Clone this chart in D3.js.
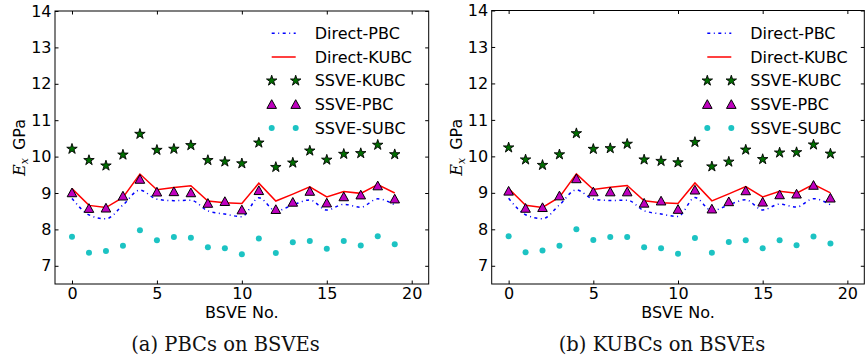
<!DOCTYPE html>
<html>
<head>
<meta charset="utf-8">
<script src="https://cdn.jsdelivr.net/npm/d3@7"></script>
<style>
  body { margin: 0; background: #fff; }
  svg { display: block; }
  .tick-label { font-family: "DejaVu Sans", sans-serif; font-size: 16px; fill: #000; }
  .caption { font-family: "DejaVu Serif", serif; font-size: 19.5px; fill: #111; }
</style>
</head>
<body>
<script>
// BSVE numbers 0..19
let bsve = d3.range(20)

// direct simulations, same in both panels
let directPBC  = [8.85, 8.40, 8.29, 8.67, 9.08, 8.83, 8.79, 8.80, 8.51, 8.42,
                  8.35, 8.87, 8.51, 8.67, 8.81, 8.53, 8.69, 8.61, 8.84, 8.67]
let directKUBC = [9.12, 8.66, 8.60, 8.88, 9.52, 9.09, 9.15, 9.20, 8.78, 8.73,
                  8.71, 9.27, 8.78, 8.97, 9.17, 8.89, 9.04, 8.99, 9.23, 9.00]

// (a) PBCs on BSVEs
let ssveKUBC_a = [10.21, 9.90, 9.75, 10.05, 10.62, 10.18, 10.21, 10.31, 9.90, 9.86,
                  9.81, 10.38, 9.71, 9.83, 10.16, 9.91, 10.07, 10.09, 10.32, 10.06]
let ssvePBC_a  = [9.01, 8.58, 8.59, 8.92, 9.38, 9.03, 9.04, 9.01, 8.72, 8.77,
                  8.54, 9.07, 8.55, 8.75, 9.05, 8.73, 8.90, 8.95, 9.20, 8.84]
let ssveSUBC_a = [7.80, 7.36, 7.41, 7.55, 7.98, 7.70, 7.79, 7.77, 7.51, 7.48,
                  7.32, 7.75, 7.35, 7.65, 7.68, 7.47, 7.68, 7.56, 7.81, 7.59]

// (b) KUBCs on BSVEs
let ssveKUBC_b = [10.24, 9.91, 9.76, 10.05, 10.63, 10.20, 10.22, 10.34, 9.91, 9.87,
                  9.83, 10.39, 9.72, 9.85, 10.18, 9.92, 10.10, 10.11, 10.32, 10.07]
let ssvePBC_b  = [9.05, 8.58, 8.60, 8.92, 9.39, 9.03, 9.03, 9.03, 8.72, 8.78,
                  8.55, 9.08, 8.56, 8.76, 9.06, 8.75, 8.95, 8.97, 9.21, 8.86]
let ssveSUBC_b = [7.81, 7.37, 7.42, 7.55, 8.00, 7.71, 7.79, 7.79, 7.51, 7.48,
                  7.33, 7.76, 7.36, 7.65, 7.70, 7.48, 7.70, 7.56, 7.80, 7.61]

let xTicks = [0, 5, 10, 15, 20]
let yTicks = [7, 8, 9, 10, 11, 12, 13, 14]
let legendNames = ['Direct-PBC', 'Direct-KUBC', 'SSVE-KUBC', 'SSVE-PBC', 'SSVE-SUBC']

let width = 865
let height = 362

let svg = d3.select('body').append('svg')
    .attr('width', width)
    .attr('height', height)

let starPath = d3.symbol().type(d3.symbolStar).size(34)()
let triPath = 'M0,-4.6L4.8,4.1L-4.8,4.1Z'

let drawStar = (g, x, y) => {
    g.append('path')
        .attr('d', starPath)
        .attr('transform', `translate(${x},${y})`)
        .attr('fill', '#006f00')
        .attr('stroke', '#000')
        .attr('stroke-width', 0.9)
}
let drawTri = (g, x, y) => {
    g.append('path')
        .attr('d', triPath)
        .attr('transform', `translate(${x},${y})`)
        .attr('fill', '#bf00bf')
        .attr('stroke', '#000')
        .attr('stroke-width', 1)
}
let drawDot = (g, x, y) => {
    g.append('circle')
        .attr('cx', x).attr('cy', y).attr('r', 3)
        .attr('fill', '#1cc3c3')
}

let drawPanel = (p) => {
    let xScale = d3.scaleLinear().domain([-1, 21]).range([p.left, p.right])
    let yScale = d3.scaleLinear().domain([6.5, 14]).range([p.bottom, p.top])
    let g = svg.append('g')

    // frame
    g.append('rect')
        .attr('x', p.left).attr('y', p.top)
        .attr('width', p.right - p.left).attr('height', p.bottom - p.top)
        .attr('fill', 'none').attr('stroke', '#000').attr('stroke-width', 1)

    // inward ticks on all four sides
    let tickLen = 3.5
    let xAxisB = d3.axisBottom(xScale).tickValues(xTicks).tickSizeInner(-tickLen).tickSizeOuter(0).tickPadding(4)
    let xAxisT = d3.axisTop(xScale).tickValues(xTicks).tickSizeInner(-tickLen).tickSizeOuter(0).tickFormat('')
    let yAxisL = d3.axisLeft(yScale).tickValues(yTicks).tickSizeInner(-tickLen).tickSizeOuter(0).tickPadding(3.5)
    let yAxisR = d3.axisRight(yScale).tickValues(yTicks).tickSizeInner(-tickLen).tickSizeOuter(0).tickFormat('')

    let axes = [
        [xAxisB, `translate(0,${p.bottom})`],
        [xAxisT, `translate(0,${p.top})`],
        [yAxisL, `translate(${p.left},0)`],
        [yAxisR, `translate(${p.right},0)`]
    ]
    axes.forEach(([ax, tr]) => {
        let a = g.append('g').attr('transform', tr).call(ax)
        a.select('.domain').remove()
        a.selectAll('.tick line').attr('stroke', '#000')
        a.selectAll('.tick text').attr('class', 'tick-label').attr('font-size', null).attr('font-family', null)
    })

    // axis labels
    g.append('text')
        .attr('class', 'tick-label')
        .attr('x', (p.left + p.right) / 2)
        .attr('y', 318)
        .attr('text-anchor', 'middle')
        .text('BSVE No.')

    let yl = g.append('text')
        .attr('transform', `translate(${p.left - 30},${(p.top + p.bottom) / 2}) rotate(-90)`)
        .attr('text-anchor', 'middle')
    yl.append('tspan')
        .attr('font-family', 'DejaVu Serif, serif').attr('font-style', 'italic').attr('font-size', 16)
        .text('E')
    yl.append('tspan')
        .attr('font-family', 'DejaVu Serif, serif').attr('font-style', 'italic').attr('font-size', 11)
        .attr('dy', 3)
        .text('x')
    yl.append('tspan')
        .attr('font-family', 'DejaVu Sans, sans-serif').attr('font-size', 16)
        .attr('dy', -3)
        .text('\u2002GPa')

    // lines
    let blueLine = d3.line()
        .x((d, i) => xScale(bsve[i]))
        .y(d => yScale(d))
        .curve(d3.curveMonotoneX)
    let redLine = d3.line()
        .x((d, i) => xScale(bsve[i]))
        .y(d => yScale(d))

    g.append('path')
        .attr('d', blueLine(directPBC))
        .attr('fill', 'none').attr('stroke', '#0000ff')
        .attr('stroke-width', 1.5).attr('stroke-dasharray', '3,3.5,1,3.5')
    g.append('path')
        .attr('d', redLine(directKUBC))
        .attr('fill', 'none').attr('stroke', '#ff0000').attr('stroke-width', 1.5)

    // markers
    p.kubc.forEach((v, i) => drawStar(g, xScale(bsve[i]), yScale(v)))
    p.pbc.forEach((v, i) => drawTri(g, xScale(bsve[i]), yScale(v)))
    p.subc.forEach((v, i) => drawDot(g, xScale(bsve[i]), yScale(v)))

    // legend, no frame
    let lx0 = p.right - 157
    let lx1 = p.right - 133
    let tx = p.right - 114
    let ly = [33.3, 57, 80.7, 104.3, 128]
    legendNames.forEach((name, k) => {
        let y = ly[k]
        if (k === 0) {
            g.append('line').attr('x1', lx0).attr('x2', lx1).attr('y1', y).attr('y2', y)
                .attr('stroke', '#0000ff').attr('stroke-width', 1.5).attr('stroke-dasharray', '3,3.5,1,3.5')
        } else if (k === 1) {
            g.append('line').attr('x1', lx0).attr('x2', lx1).attr('y1', y).attr('y2', y)
                .attr('stroke', '#ff0000').attr('stroke-width', 1.5)
        } else if (k === 2) {
            drawStar(g, lx0, y); drawStar(g, lx1, y)
        } else if (k === 3) {
            drawTri(g, lx0, y); drawTri(g, lx1, y)
        } else {
            drawDot(g, lx0, y); drawDot(g, lx1, y)
        }
        g.append('text')
            .attr('class', 'tick-label')
            .attr('x', tx).attr('y', y)
            .attr('dy', '0.36em')
            .text(name)
    })

    // caption
    g.append('text')
        .attr('class', 'caption')
        .attr('x', p.captionX)
        .attr('y', 351)
        .attr('text-anchor', 'middle')
        .text(p.caption)
}

drawPanel({
    left: 55, right: 428.7, top: 11, bottom: 284,
    kubc: ssveKUBC_a, pbc: ssvePBC_a, subc: ssveSUBC_a,
    caption: '(a) PBCs on BSVEs', captionX: 225.5
})
drawPanel({
    left: 491.7, right: 864.3, top: 10.5, bottom: 284,
    kubc: ssveKUBC_b, pbc: ssvePBC_b, subc: ssveSUBC_b,
    caption: '(b) KUBCs on BSVEs', captionX: 662
})
</script>
</body>
</html>
